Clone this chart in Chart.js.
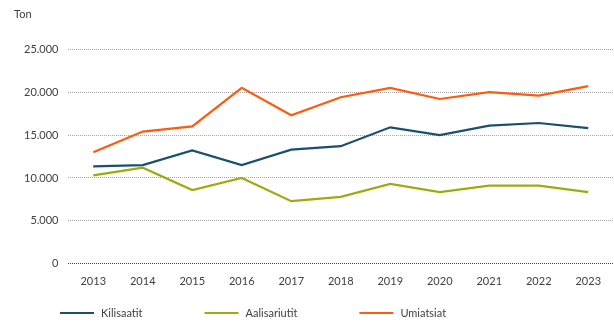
<!DOCTYPE html>
<html lang="kl">
<head>
    <meta charset="UTF-8">
    <title>Ton</title>
    <style>
        html, body { margin: 0; padding: 0; background: #fff; }
        #wrap { width: 614px; height: 331px; }
    </style>
</head>
<body>
    <div id="wrap"><canvas id="myCanvas"></canvas></div>
    <script src="https://cdn.jsdelivr.net/npm/chart.js@4/dist/chart.umd.min.js"></script>
    <script>
        const years = ['2013','2014','2015','2016','2017','2018','2019','2020','2021','2022','2023'];
        const kilisaatit = [11350, 11500, 13200, 11500, 13300, 13700, 15900, 15000, 16100, 16400, 15800];
        const aalisariutit = [10300, 11200, 8600, 10000, 7300, 7800, 9300, 8350, 9100, 9100, 8350];
        const umiatsiat = [13000, 15400, 16000, 20500, 17300, 19400, 20500, 19200, 20000, 19600, 20700];
        const yTicks = [0, 5000, 10000, 15000, 20000, 25000];

        const fontFamily = 'Lato, "Liberation Sans", sans-serif';
        const textColor = '#404040';

        // legend drawn along the bottom, left-aligned, with long line swatches
        const lineLegend = {
            id: 'lineLegend',
            afterDraw(chart) {
                const ctx = chart.ctx;
                const y = 313;
                let x = 60;
                ctx.save();
                ctx.font = '11px ' + fontFamily;
                ctx.textBaseline = 'middle';
                chart.data.datasets.forEach(ds => {
                    ctx.strokeStyle = ds.borderColor;
                    ctx.lineWidth = 2.2;
                    ctx.beginPath();
                    ctx.moveTo(x, y);
                    ctx.lineTo(x + 34, y);
                    ctx.stroke();
                    ctx.fillStyle = textColor;
                    ctx.fillText(ds.label, x + 41, y);
                    x += 41 + ctx.measureText(ds.label).width + 62;
                });
                ctx.restore();
            }
        };

        const ctx = document.getElementById('myCanvas').getContext('2d');
        const myChart = new Chart(ctx, {
            type: 'line',
            data: {
                labels: years,
                datasets: [
                    { label: 'Kilisaatit', data: kilisaatit, borderColor: '#1a4f6e' },
                    { label: 'Aalisariutit', data: aalisariutit, borderColor: '#9aad0e' },
                    { label: 'Umiatsiat', data: umiatsiat, borderColor: '#ff5b0f' }
                ]
            },
            options: {
                responsive: true,
                maintainAspectRatio: false,
                animation: false,
                elements: {
                    line: { borderWidth: 2.2, tension: 0 },
                    point: { radius: 0 }
                },
                layout: { padding: { left: 14, right: 1, top: 0, bottom: 32 } },
                plugins: {
                    legend: { display: false },
                    tooltip: { enabled: false },
                    title: {
                        display: true,
                        text: 'Ton',
                        align: 'start',
                        color: textColor,
                        font: { family: fontFamily, size: 11, weight: 'normal' },
                        padding: { top: 8, bottom: 28 }
                    }
                },
                scales: {
                    x: {
                        offset: true,
                        grid: { display: false, drawTicks: false },
                        border: { display: false },
                        ticks: {
                            color: textColor,
                            padding: 11,
                            maxRotation: 0,
                            font: { family: fontFamily, size: 11 }
                        }
                    },
                    y: {
                        min: 0,
                        max: 25000,
                        afterBuildTicks: axis => { axis.ticks = yTicks.map(v => ({ value: v })); },
                        border: { display: false, dash: [1, 1] },
                        grid: {
                            drawTicks: false,
                            lineWidth: 1,
                            color: c => c.tick && c.tick.value === 0 ? '#404040' : '#a6a6a6'
                        },
                        ticks: {
                            color: textColor,
                            padding: 10,
                            font: { family: fontFamily, size: 11 },
                            callback: v => v.toLocaleString('de-DE')
                        }
                    }
                }
            },
            plugins: [lineLegend]
        });
    </script>
</body>
</html>
